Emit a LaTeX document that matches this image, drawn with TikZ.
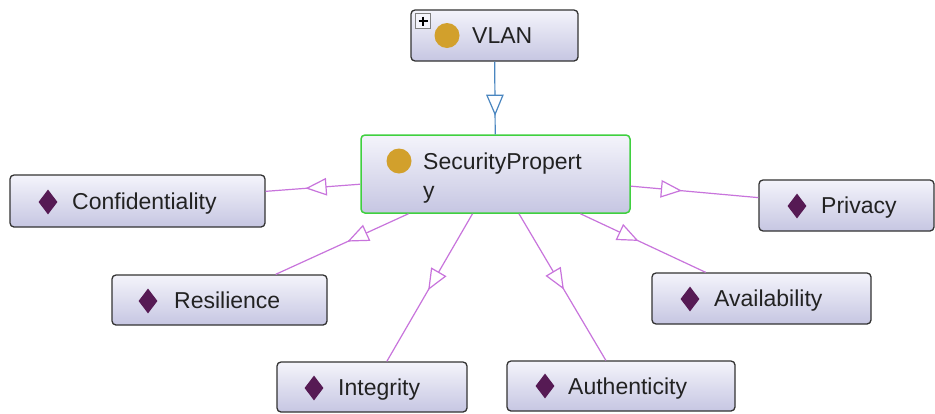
\documentclass[tikz,border=0pt]{standalone}
\usepackage{fontspec}
\setmainfont{Liberation Sans}
\usetikzlibrary{shapes.geometric,decorations.markings,calc}
\definecolor{boxtop}{HTML}{F4F4FB}
\definecolor{boxbot}{HTML}{C6C6E2}
\definecolor{boxline}{HTML}{333333}
\definecolor{selgreen}{HTML}{3FD03F}
\definecolor{purp}{HTML}{C874DC}
\definecolor{blueedge}{HTML}{4A86C0}
\definecolor{goldc}{HTML}{D2A02C}
\definecolor{diac}{HTML}{561A54}
\definecolor{txt}{HTML}{222222}
\tikzset{
  clsbox/.style={draw=boxline, line width=1.3pt, rounded corners=4pt,
    top color=boxtop, bottom color=boxbot, inner sep=0pt, rectangle},
  lbl/.style={font=\fontsize{23}{28}\selectfont, text=txt, inner sep=0pt, anchor=base west},
  dia/.style={diamond, fill=diac, inner sep=0pt, minimum width=19, minimum height=25},
  dot/.style={circle, fill=goldc, inner sep=0pt, minimum size=25},
  edge/.style={draw=#1, line width=1.2pt},
  gen/.style={postaction={decorate}, decoration={markings,
    mark=at position 0.5 with {\draw[draw=#1, line width=1.2pt, fill=white, line join=miter]
      (-9.5pt,-8pt) -- (9.5pt,0pt) -- (-9.5pt,8pt) -- cycle;}}}
}
\begin{document}
\begin{tikzpicture}[x=1pt,y=-1pt]
\useasboundingbox (0,0) rectangle (935,413);
\fill[white] (0,0) rectangle (935,413);
% boxes
\node[clsbox, minimum width=167, minimum height=51] (vlan) at (494.5,35.5) {};
\node[clsbox, draw=selgreen, line width=1.5pt, minimum width=269, minimum height=78] (sp) at (495.5,174) {};
\node[clsbox, minimum width=255, minimum height=52] (conf) at (137.5,201) {};
\node[clsbox, minimum width=215, minimum height=50] (res) at (219.5,300) {};
\node[clsbox, minimum width=190, minimum height=50] (integ) at (372,387) {};
\node[clsbox, minimum width=228, minimum height=50] (auth) at (621,386) {};
\node[clsbox, minimum width=219, minimum height=51] (avail) at (761.5,298.5) {};
\node[clsbox, minimum width=175, minimum height=51] (priv) at (846.5,205.5) {};
% plus icon
\node[draw=gray, line width=0.8pt, fill=boxtop, inner sep=0pt, minimum size=15] (vplus) at (423,21) {};
\draw[black, line width=1.4pt] ($(vplus.center)+(-4.5,0)$) -- ($(vplus.center)+(4.5,0)$);
\draw[black, line width=1.4pt] ($(vplus.center)+(0,-4.5)$) -- ($(vplus.center)+(0,4.5)$);
% icons
\node[dot] (vlan-i) at (447,35.5) {};
\node[dot] (sp-i) at (399,161) {};
\node[dia] (conf-i) at (48,202) {};
\node[dia] (res-i) at (148,301) {};
\node[dia] (integ-i) at (314,388) {};
\node[dia] (auth-i) at (545,386) {};
\node[dia] (avail-i) at (690,299) {};
\node[dia] (priv-i) at (797,206) {};
% labels
\node[lbl] (vlan-t) at (472,43) {VLAN};
\node[lbl] (sp-t1) at (423,169) {SecurityPropert};
\node[lbl] (sp-t2) at (423,198) {y};
\node[lbl] (conf-t) at (72,209) {Confidentiality};
\node[lbl] (res-t) at (174,308) {Resilience};
\node[lbl] (integ-t) at (338,395) {Integrity};
\node[lbl] (auth-t) at (568,394) {Authenticity};
\node[lbl] (avail-t) at (714,306) {Availability};
\node[lbl] (priv-t) at (821,213) {Privacy};
% edges
\draw[edge=blueedge] (vlan) -- (sp);
\foreach \n in {conf,res,integ,auth,avail,priv}{
  \draw[edge=purp] (sp) -- (\n);
}
\path[gen=blueedge] (vlan.center) -- (sp.center);
\foreach \n in {conf,res,integ,auth,avail,priv}{
  \path[gen=purp] (sp.center) -- (\n.center);
}
\end{tikzpicture}
\end{document}
